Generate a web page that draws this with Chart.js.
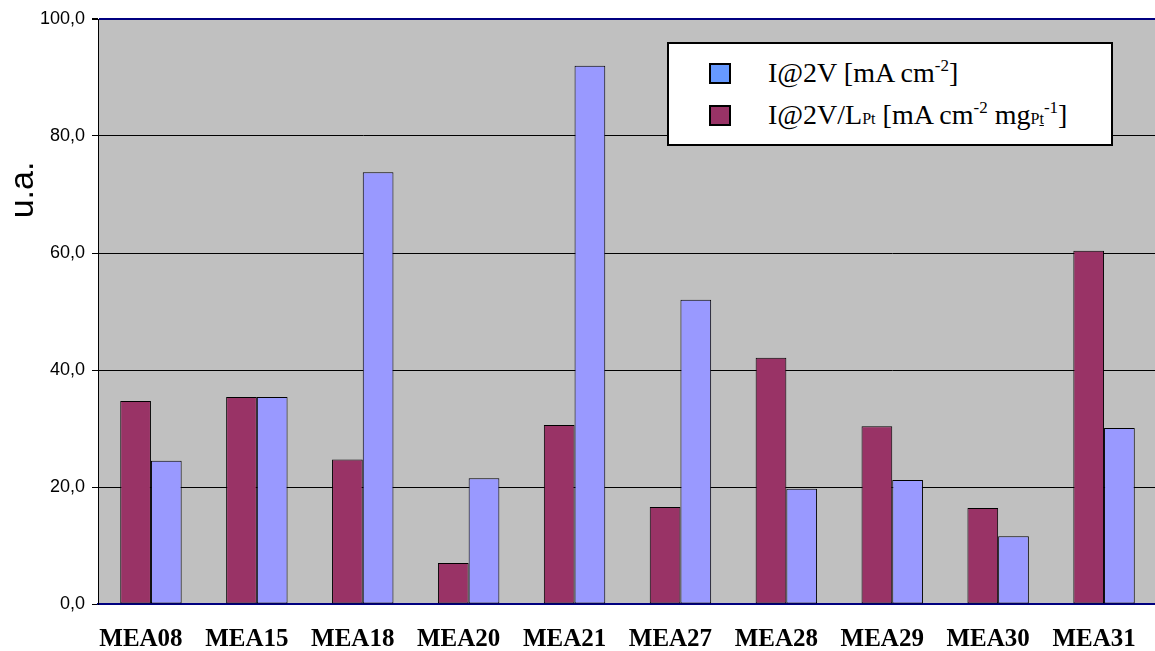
<!DOCTYPE html>
<html>
<head>
<meta charset="utf-8">
<title>MEA current comparison</title>
<script src="https://cdn.jsdelivr.net/npm/chart.js@4.4.1/dist/chart.umd.min.js"></script>
<style>
  html, body { margin: 0; padding: 0; background: #ffffff; overflow: hidden; }
  #outer { position: relative; width: 1155px; height: 651px; overflow: hidden; }
  #wrap { position: absolute; left: 0; top: 0; width: 1157px; height: 651px; }
  canvas { display: block; }
  #legend {
    position: absolute; left: 667px; top: 42px; width: 446px; height: 104px;
    box-sizing: border-box; border: 2px solid #000; background: #fff;
    font-family: "Liberation Serif", "Times New Roman", serif; font-size: 28px; color: #000;
  }
  .row { position: absolute; left: 40px; height: 22px; display: flex; align-items: center; white-space: nowrap; }
  .sw { width: 22px; height: 21px; box-sizing: border-box; border: 2px solid #000; margin-right: 37px; flex: none; }
  .sup { font-size: 17px; position: relative; top: -11px; }
  .sub { font-size: 16px; }
</style>
</head>
<body>
<div id="outer">
  <div id="wrap"><canvas id="chart"></canvas></div>
  <div id="legend"></div>
</div>
<script>
// Sample names along the x axis
const categories = ['MEA08', 'MEA15', 'MEA18', 'MEA20', 'MEA21', 'MEA27', 'MEA28', 'MEA29', 'MEA30', 'MEA31'];

// I@2V normalised by Pt loading [mA cm-2 mgPt-1]
const currentPerLoading = [34.7, 35.4, 24.7, 7.0, 30.6, 16.6, 42.1, 30.4, 16.4, 60.4];

// I@2V [mA cm-2]
const currentDensity = [24.5, 35.4, 73.8, 21.5, 92.0, 52.0, 19.7, 21.2, 11.6, 30.1];

// Y axis tick values
const yTicks = [0, 20, 40, 60, 80, 100];

// Legend entries (label markup uses super/subscripts)
const legendLabels = [
  'I@2V [mA cm<span class="sup">-2</span>]',
  'I@2V/L<span class="sub">Pt</span> [mA cm<span class="sup">-2</span> mg<span class="sub">P<u>t</u></span><span class="sup">-1</span>]'
];
const legendSwatches = ['#6699FF', '#993366'];

const MAROON = '#993366';
const PERIWINKLE = '#9999FF';
const NAVY = '#000080';

// Grey plot background
const plotBackground = {
  id: 'plotBackground',
  beforeDraw(chart) {
    const { ctx, chartArea: a } = chart;
    ctx.save();
    ctx.fillStyle = '#C0C0C0';
    ctx.fillRect(a.left, a.top, a.right - a.left, a.bottom - a.top);
    ctx.restore();
  }
};

// Vertical axis caption
const axisCaption = {
  id: 'axisCaption',
  afterDraw(chart) {
    const { ctx } = chart;
    ctx.save();
    ctx.translate(24, 190);
    ctx.rotate(-Math.PI / 2);
    ctx.font = '34px "Liberation Sans", Arial, sans-serif';
    ctx.fillStyle = '#000';
    ctx.textAlign = 'center';
    ctx.textBaseline = 'middle';
    ctx.fillText('u.a.', 0, 0);
    ctx.restore();
  }
};

new Chart(document.getElementById('chart'), {
  type: 'bar',
  data: {
    labels: categories,
    datasets: [
      {
        label: 'I@2V/LPt [mA cm-2 mgPt-1]',
        data: currentPerLoading,
        backgroundColor: MAROON,
        borderColor: '#000',
        borderWidth: 1,
        borderSkipped: false
      },
      {
        label: 'I@2V [mA cm-2]',
        data: currentDensity,
        backgroundColor: PERIWINKLE,
        borderColor: '#000',
        borderWidth: 1,
        borderSkipped: false
      }
    ]
  },
  options: {
    responsive: true,
    maintainAspectRatio: false,
    animation: false,
    devicePixelRatio: 1,
    layout: { padding: { top: 19, left: 0, right: 0, bottom: 0 } },
    datasets: { bar: { categoryPercentage: 0.58, barPercentage: 1.0 } },
    plugins: {
      legend: { display: false },
      tooltip: { enabled: false }
    },
    scales: {
      x: {
        grid: { drawOnChartArea: false, drawTicks: true, tickLength: 21, tickColor: 'rgba(0,0,0,0)' },
        border: { display: true, color: NAVY, width: 2 },
        ticks: {
          color: '#000',
          padding: 0,
          labelOffset: -10,
          maxRotation: 0,
          autoSkip: false,
          font: { family: '"Liberation Serif", "Times New Roman", serif', size: 25, weight: 'bold' }
        },
        afterFit(scale) { scale.height = 47; }
      },
      y: {
        min: 0,
        max: 100,
        afterBuildTicks(scale) { scale.ticks = yTicks.map(v => ({ value: v })); },
        grid: {
          color: ctx => (ctx.tick && ctx.tick.value === 100 ? NAVY : '#000'),
          lineWidth: ctx => (ctx.tick && ctx.tick.value === 100 ? 2 : 1),
          tickColor: '#000',
          tickLength: 6,
          drawTicks: true
        },
        border: { display: true, color: '#000', width: 1 },
        ticks: {
          color: '#000',
          padding: 7,
          font: { family: '"Liberation Sans", Arial, sans-serif', size: 18 },
          callback: v => v.toFixed(1).replace('.', ',')
        },
        afterFit(scale) { scale.width = 98; }
      }
    }
  },
  plugins: [plotBackground, axisCaption]
});

// HTML legend with typeset units
const legend = document.getElementById('legend');
legendLabels.forEach((html, i) => {
  const row = document.createElement('div');
  row.className = 'row';
  row.style.top = (18 + i * 42) + 'px';
  const sw = document.createElement('div');
  sw.className = 'sw';
  sw.style.background = legendSwatches[i];
  const txt = document.createElement('span');
  txt.innerHTML = html;
  row.appendChild(sw);
  row.appendChild(txt);
  legend.appendChild(row);
});
</script>
</body>
</html>
